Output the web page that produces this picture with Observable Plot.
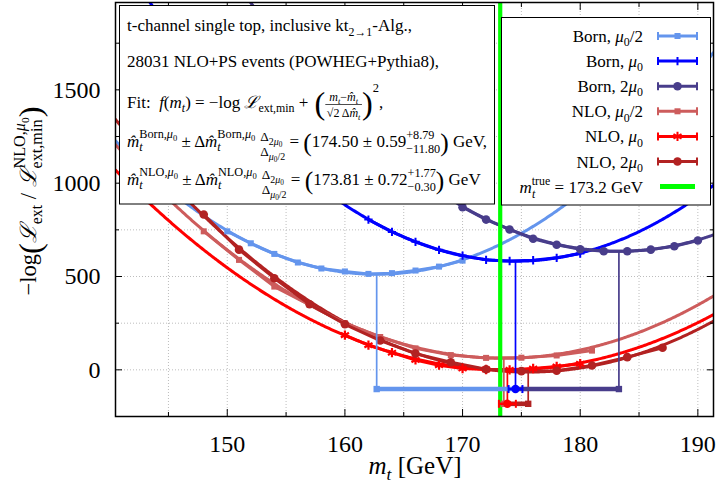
<!DOCTYPE html>
<html>
<head>
<meta charset="utf-8">
<script src="https://cdn.jsdelivr.net/npm/d3@7"></script>
<script src="https://cdn.jsdelivr.net/npm/@observablehq/plot@0.6"></script>
<style>
  html, body { margin: 0; padding: 0; background: #fff; }
  #chart svg { display: block; }
</style>
</head>
<body>
<div id="chart"></div>
<script>
// ---------------- data ----------------
const seriesKeys = ["bornHalf", "born", "bornTwo", "nloHalf", "nlo", "nloTwo"];
const seriesLabels = ["Born, μ0/2", "Born, μ0", "Born, 2μ0", "NLO, μ0/2", "NLO, μ0", "NLO, 2μ0"];
const seriesColors = ["#6495ed", "#0000ff", "#483d8b", "#cd5c5c", "#ff0000", "#b22222"];
const seriesSymbols = ["square", "plus", "circle", "square", "asterisk", "circle"];

const bornHalfMass = [150, 152, 154, 156, 158, 160, 162, 164, 166, 168, 170];
const bornHalfNLL  = [742, 678, 621, 575, 543, 527, 514, 518, 532, 553, 585];
const bornMass = [162, 164, 166, 168, 170, 172, 174, 176, 178, 180];
const bornNLL  = [805, 739, 686, 643, 612, 589, 583, 587, 600, 623];
const bornTwoMass = [170, 172, 174, 176, 178, 180, 182, 184, 186, 188, 190];
const bornTwoNLL  = [871, 805, 752, 702, 670, 646, 635, 635, 644, 662, 693];
const nloHalfMass = [148, 151, 154, 157, 160, 163, 166, 169, 172, 175, 178, 181];
const nloHalfNLL  = [742, 589, 446, 348, 250, 176, 115, 79, 64, 65, 77, 103];
const nloMass = [160, 162, 164, 166, 168, 170, 172, 174, 176, 178, 180];
const nloNLL  = [186, 132, 92, 53, 25, 7, 2, 0, 7, 18, 33];
const nloTwoMass = [148, 151, 154, 157, 160, 163, 166, 169, 172, 175, 178, 181, 184, 187];
const nloTwoNLL  = [832, 644, 491, 351, 244, 157, 87, 41, 3, -7, -5, 23, 68, 118];

// parabola fits f(m) = min + curvature * (m - center)^2
const fitCenter    = [162.70, 174.50, 183.29, 173.51, 173.81, 175.58];
const fitMin       = [512, 582, 635, 62, 0, -12];
const fitCurvature = [1.45, 1.436, 1.36, 1.05, 0.9645, 1.10];

// results: central, stat, +Δ(2μ0), Δ(μ0/2)
const bornResult = [174.50, 0.59, 8.79, -11.80];
const nloResult  = [173.81, 0.72, 1.77, -0.30];
const trueMass = 173.2;
const bandLevel = [-103, -182]; // Born, NLO

const xMajor = [150, 160, 170, 180, 190];
const xMinor = [145, 155, 165, 175, 185];
const yMajor = [0, 500, 1000, 1500];
const yMinor = [250, 750, 1250, 1750];
const xDomain = [140.5, 191.33];
const yDomain = [-250, 1968];

// ---------------- derived tables ----------------
const pointSets = [[bornHalfMass, bornHalfNLL], [bornMass, bornNLL], [bornTwoMass, bornTwoNLL],
                   [nloHalfMass, nloHalfNLL], [nloMass, nloNLL], [nloTwoMass, nloTwoNLL]];
const pointRows = pointSets.flatMap(([ms, vs], i) => ms.map((m, j) => ({series: seriesKeys[i], m, v: vs[j]})));
const massSamples = d3.range(xDomain[0], xDomain[1] + 0.05, 0.1);
const fitRows = seriesKeys.flatMap((k, i) => massSamples.map(m => ({series: k, m, v: fitMin[i] + fitCurvature[i] * (m - fitCenter[i]) ** 2})));

const bandRows = [
  {series: "bornHalf", level: bandLevel[0], x1: bornResult[0] + bornResult[3], x2: bornResult[0]},
  {series: "bornTwo",  level: bandLevel[0], x1: bornResult[0], x2: bornResult[0] + bornResult[2]},
  {series: "nloHalf",  level: bandLevel[1], x1: nloResult[0] + nloResult[3], x2: nloResult[0]},
  {series: "nloTwo",   level: bandLevel[1], x1: nloResult[0], x2: nloResult[0] + nloResult[2]}
];
const bandEnds = [
  {series: "bornHalf", level: bandLevel[0], m: bornResult[0] + bornResult[3]},
  {series: "bornTwo",  level: bandLevel[0], m: bornResult[0] + bornResult[2]},
  {series: "nloHalf",  level: bandLevel[1], m: nloResult[0] + nloResult[3]},
  {series: "nloTwo",   level: bandLevel[1], m: nloResult[0] + nloResult[2]}
];
const statRows = [
  {series: "born", level: bandLevel[0], c: bornResult[0], x1: bornResult[0] - bornResult[1], x2: bornResult[0] + bornResult[1]},
  {series: "nlo",  level: bandLevel[1], c: nloResult[0],  x1: nloResult[0] - nloResult[1],  x2: nloResult[0] + nloResult[1]}
];
const statCaps = statRows.flatMap(d => [{series: d.series, level: d.level, m: d.x1}, {series: d.series, level: d.level, m: d.x2}]);
const dropRows = seriesKeys.map((k, i) => ({series: k, m: fitCenter[i], level: bandLevel[i < 3 ? 0 : 1], v: fitMin[i]}));

const vbar = {draw(ctx, size) { const r = Math.sqrt(size / Math.PI); ctx.moveTo(0, -r); ctx.lineTo(0, r); }};
const SERIF = "'Liberation Serif', 'Times New Roman', 'DejaVu Serif', serif";

const dotMarks = seriesKeys.map((k, i) => {
  const data = pointRows.filter(d => d.series === k);
  const sym = seriesSymbols[i];
  if (sym === "square") return Plot.dot(data, {x: "m", y: "v", symbol: "square", r: 3.4, fill: "series"});
  if (sym === "circle") return Plot.dot(data, {x: "m", y: "v", symbol: "circle", r: 4.3, fill: "series"});
  if (sym === "plus") return Plot.dot(data, {x: "m", y: "v", symbol: "plus", r: 2.8, stroke: "series", strokeWidth: 2});
  return Plot.dot(data, {x: "m", y: "v", symbol: "asterisk", r: 4.4, stroke: "series", strokeWidth: 2.2});
});

const tickOpts = {fill: "none", label: null, stroke: "#000", strokeWidth: 1};
const plot = Plot.plot({
  width: 717, height: 490,
  marginLeft: 115, marginRight: 4, marginTop: 2, marginBottom: 74,
  x: {domain: xDomain},
  y: {domain: yDomain},
  color: {domain: seriesKeys, range: seriesColors},
  style: {fontFamily: SERIF, background: "#fff", color: "#000"},
  marks: [
    Plot.gridX([...xMajor, ...xMinor], {stroke: "#bdbdbd", strokeOpacity: 1, strokeDasharray: "1,2"}),
    Plot.gridY([...yMajor, ...yMinor], {stroke: "#bdbdbd", strokeOpacity: 1, strokeDasharray: "1,2"}),
    Plot.line(fitRows, {x: "m", y: "v", z: "series", stroke: "series", strokeWidth: 3, clip: true}),
    Plot.line(pointRows, {x: "m", y: "v", z: "series", stroke: "series", strokeWidth: 3, clip: true}),
    ...dotMarks,
    Plot.ruleX([trueMass], {stroke: "#00ff00", strokeWidth: 4.2}),
    Plot.ruleX(dropRows, {x: "m", y1: "level", y2: "v", stroke: "series", strokeWidth: 1.7}),
    Plot.ruleY(bandRows, {y: "level", x1: "x1", x2: "x2", stroke: "series", strokeWidth: 4.6}),
    Plot.dot(bandEnds, {x: "m", y: "level", symbol: "square", r: 3.6, fill: "series"}),
    Plot.ruleY(statRows, {y: "level", x1: "x1", x2: "x2", stroke: "series", strokeWidth: 2.5}),
    Plot.dot(statCaps, {x: "m", y: "level", symbol: vbar, r: 4, stroke: "series", fill: "none", strokeWidth: 2}),
    Plot.dot(statRows, {x: "c", y: "level", symbol: "circle", r: 4.2, fill: "series"}),
    Plot.axisX(xMajor, {anchor: "bottom", tickSize: -7, ...tickOpts}),
    Plot.axisX(xMajor, {anchor: "top", tickSize: -7, ...tickOpts}),
    Plot.axisX(xMinor, {anchor: "bottom", tickSize: -4, ...tickOpts}),
    Plot.axisX(xMinor, {anchor: "top", tickSize: -4, ...tickOpts}),
    Plot.axisY(yMajor, {anchor: "left", tickSize: -7, ...tickOpts}),
    Plot.axisY(yMajor, {anchor: "right", tickSize: -7, ...tickOpts}),
    Plot.axisY(yMinor, {anchor: "left", tickSize: -4, ...tickOpts}),
    Plot.axisY(yMinor, {anchor: "right", tickSize: -4, ...tickOpts}),
    Plot.axisX(xMajor, {anchor: "bottom", tickSize: 0, tickPadding: 18, fontSize: 24, label: null, tickFormat: d3.format("d")}),
    Plot.axisY(yMajor, {anchor: "left", tickSize: 0, tickPadding: 15, fontSize: 24, label: null, tickFormat: d3.format("d")}),
    Plot.frame({stroke: "#000", strokeWidth: 1.5})
  ]
});
document.getElementById("chart").appendChild(plot);

// ---------------- annotations (text, inset box, legend) ----------------
const root = d3.select(plot);
const ov = root.append("g").attr("text-anchor", "start");

function rt(g, x, y, parts, size, anchor) {
  const t = g.append("text").attr("x", x).attr("y", y).attr("font-size", size)
    .attr("font-family", SERIF).attr("fill", "#000").attr("text-anchor", anchor || "start")
    .style("white-space", "pre");
  let prev = 0;
  for (const p0 of parts) {
    const p = typeof p0 === "string" ? {t: p0} : p0;
    const off = (p.o || 0) * size;
    const ts = t.append("tspan").text(p.t);
    if (off !== prev) ts.attr("dy", off - prev);
    prev = off;
    ts.attr("font-size", size * (p.s || 1));
    if (p.i) ts.attr("font-style", "italic");
    if (p.dx) ts.attr("dx", p.dx);
  }
  return {node: t, w: t.node().getComputedTextLength()};
}
function stack(g, x, y, rows, size) {
  let w = 0;
  for (const [parts, dy, sc] of rows) w = Math.max(w, rt(g, x, y + dy, parts, size * sc).w);
  return w;
}
function muParts(label) {
  const [pre, post] = label.split("μ0");
  const parts = [pre, {t: "μ", i: 1}, {t: "0", o: 0.25, s: 0.7}];
  if (post) parts.push({t: post, o: 0});
  return parts;
}

// inset box
const ins = ov.append("g");
ins.append("rect").attr("x", 119.5).attr("y", 5.5).attr("width", 375).attr("height", 198.5)
  .attr("fill", "#fff").attr("stroke", "#000").attr("stroke-width", 1);
const FS = 17, X0 = 127;
rt(ins, X0, 31, ["t-channel single top, inclusive kt", {t: "2→1", o: 0.3, s: 0.7}, {t: "-Alg.,", o: 0}], FS);
rt(ins, X0, 67, ["28031 NLO+PS events (POWHEG+Pythia8),"], FS);
{
  let cx = X0;
  cx += rt(ins, cx, 108, ["Fit:  ", {t: "f", i: 1}, "(", {t: "m", i: 1}, {t: "t", i: 1, o: 0.25, s: 0.7},
    {t: ") = −log ", o: 0}, {t: "ℒ", i: 1}, {t: "ext,min", o: 0.25, s: 0.7}, {t: " + ", o: 0}], FS).w;
  cx += 2;
  cx += rt(ins, cx, 114, ["("], FS * 1.9).w;
  const num = rt(ins, cx, 101, [{t: "m", i: 1}, {t: "t", i: 1, o: 0.25, s: 0.7}, {t: "−", o: 0}, {t: "m\u0302", i: 1}, {t: "t", i: 1, o: 0.25, s: 0.7}], 12);
  const den = rt(ins, cx, 117, ["√2 Δ", {t: "m\u0302", i: 1}, {t: "t", i: 1, o: 0.25, s: 0.7}], 12);
  const W = Math.max(num.w, den.w) + 3;
  num.node.attr("x", cx + (W - num.w) / 2);
  den.node.attr("x", cx + (W - den.w) / 2);
  ins.append("line").attr("x1", cx).attr("x2", cx + W).attr("y1", 104.5).attr("y2", 104.5).attr("stroke", "#000").attr("stroke-width", 0.7);
  cx += W;
  cx += rt(ins, cx, 114, [")"], FS * 1.9).w;
  cx += rt(ins, cx, 92, ["2"], 12.5).w;
  rt(ins, cx, 108, [","], FS);
}
function resultLine(y, label, res, tail) {
  const supRows = [[[label + ",", {t: "μ", i: 1}, {t: "0", o: 0.25, s: 0.7}], -9, 0.72], [[{t: "t", i: 1}], 4, 0.72]];
  let x = X0;
  x += rt(ins, x, y, [{t: "m\u0302", i: 1}], FS).w;
  x += stack(ins, x, y, supRows, FS);
  x += rt(ins, x, y, [" ± Δ", {t: "m\u0302", i: 1}], FS).w;
  x += stack(ins, x, y, supRows, FS);
  x += 5;
  x += stack(ins, x, y, [
    [["Δ", {t: "2", o: 0.28, s: 0.75}, {t: "μ", i: 1, o: 0.28, s: 0.75}, {t: "0", o: 0.42, s: 0.55}], -6, 0.78],
    [["Δ", {t: "μ", i: 1, o: 0.28, s: 0.75}, {t: "0", o: 0.42, s: 0.55}, {t: "/2", o: 0.28, s: 0.75}], 9, 0.78]
  ], FS);
  x += rt(ins, x, y, [" = "], FS).w;
  x += rt(ins, x, y + 4, ["("], FS * 1.5).w;
  x += rt(ins, x, y, [`${res[0].toFixed(2)} ± ${res[1].toFixed(2)}`], FS).w;
  x += stack(ins, x, y, [[["+" + res[2].toFixed(2)], -8, 0.72], [["−" + Math.abs(res[3]).toFixed(2)], 6, 0.72]], FS);
  x += rt(ins, x, y + 4, [")"], FS * 1.5).w;
  rt(ins, x, y, [tail], FS);
}
resultLine(147, "Born", bornResult, " GeV,");
resultLine(185, "NLO", nloResult, " GeV");

// legend
const lg = ov.append("g");
lg.append("rect").attr("x", 501.5).attr("y", 17.5).attr("width", 209).attr("height", 187.5)
  .attr("fill", "#fff").attr("stroke", "#000").attr("stroke-width", 1);
const legendY = d3.range(7).map(i => 36 + i * 25.1);
const symType = {square: d3.symbolSquare, circle: d3.symbolCircle, plus: d3.symbolPlus, asterisk: d3.symbolAsterisk};
const symR = {square: 3.4, circle: 4.3, plus: 2.8, asterisk: 4.4};
seriesKeys.forEach((k, i) => {
  const y = legendY[i], c = seriesColors[i];
  rt(lg, 643, y + 6, muParts(seriesLabels[i]), FS, "end");
  lg.append("line").attr("x1", 658).attr("x2", 697).attr("y1", y).attr("y2", y).attr("stroke", c).attr("stroke-width", 3);
  for (const xx of [658, 697]) lg.append("line").attr("x1", xx).attr("x2", xx).attr("y1", y - 4).attr("y2", y + 4).attr("stroke", c).attr("stroke-width", 2);
  const s = seriesSymbols[i];
  const path = d3.symbol(symType[s], Math.PI * symR[s] * symR[s])();
  const el = lg.append("path").attr("d", path).attr("transform", `translate(677.5,${y})`);
  if (s === "square" || s === "circle") el.attr("fill", c);
  else el.attr("fill", "none").attr("stroke", c).attr("stroke-width", 2);
});
{
  const y = legendY[6];
  rt(lg, 643, y + 6, [{t: "m", i: 1}, {t: "t", i: 1, o: 0.3, s: 0.7}, {t: "true", o: -0.42, s: 0.7, dx: -3.4}, {t: ` = ${trueMass} GeV`, o: 0}], FS, "end");
  lg.append("line").attr("x1", 660).attr("x2", 695).attr("y1", y).attr("y2", y).attr("stroke", "#00ff00").attr("stroke-width", 5);
}

// axis titles
rt(ov, 415, 474, [{t: "m", i: 1}, {t: "t", i: 1, o: 0.25, s: 0.7}, {t: " [GeV]", o: 0}], 25, "middle");
{
  const outer = ov.append("g").attr("transform", "translate(36,201) rotate(-90)");
  const g = outer.append("g");
  const YS = 22.5;
  let x = 0;
  x += rt(g, x, 0, ["−log"], YS).w;
  x += rt(g, x, 5, ["("], YS * 1.45).w;
  x += rt(g, x, 0, [{t: "ℒ", i: 1}, {t: "ext", o: 0.25, s: 0.7}, {t: " / ", o: 0}, {t: "ℒ", i: 1}], YS).w;
  x += stack(g, x, 0, [[["NLO,", {t: "μ", i: 1}, {t: "0", o: 0.25, s: 0.7}], -11, 0.72], [["ext,min"], 6, 0.72]], YS);
  x += rt(g, x, 5, [")"], YS * 1.45).w;
  g.attr("transform", `translate(${-x / 2},0)`);
}
</script>
</body>
</html>
